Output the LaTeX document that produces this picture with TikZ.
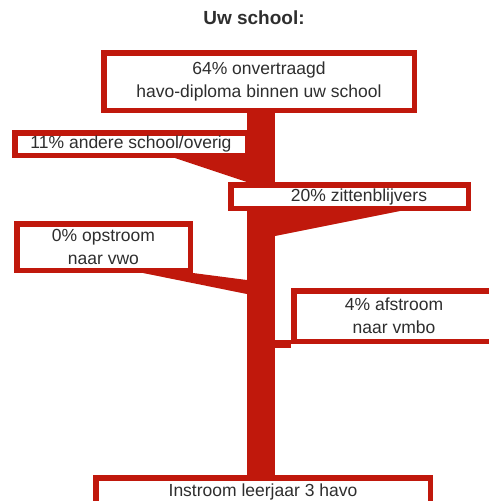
\documentclass[tikz,border=0pt]{standalone}
\usepackage{fontspec}
\setmainfont{Liberation Sans}
\usetikzlibrary{positioning,calc,backgrounds}
\definecolor{rood}{HTML}{C0180C}
\definecolor{inkt}{HTML}{2E2E2E}

\begin{document}
\begin{tikzpicture}[x=1pt, y=-1pt,
  vak/.style={rectangle, draw=rood, line width=5.5pt, fill=white, inner sep=0pt, align=center,
    font=\fontsize{17.5}{23}\selectfont\color{inkt}},
  stroom/.style={fill=rood},
  kop/.style={font=\fontsize{19}{22}\selectfont\bfseries\color{inkt}}
]
  \useasboundingbox (0,0) rectangle (489,501);
  \clip (0,0) rectangle (489,501);

  \node[kop] (titel) at (254,18) {Uw school:};

  \node[vak, minimum width=310.5, minimum height=57.5] (diploma) at (259,81.5) {64\% onvertraagd\\havo-diploma binnen uw school};
  \node[vak, minimum width=232.5, minimum height=22.5] (overig) at (131,144) {11\% andere school/overig};
  \node[vak, minimum width=237.5, minimum height=23.5] (zitten) at (349.5,196.5) {\hspace*{19pt}20\% zittenblijvers};
  \node[vak, minimum width=173.5, minimum height=46.5] (opstroom) at (103.5,247) {0\% opstroom\\naar vwo};
  \node[vak, minimum width=200.5, minimum height=50.5] (afstroom) at (394,316) {4\% afstroom\\naar vmbo};
  \node[vak, minimum width=334.5, minimum height=34.5] (instroom) at (263,495) {\raisebox{3pt}[\height][\depth]{Instroom leerjaar 3 havo}};

  % stam en zijstromen
  \begin{scope}[on background layer]
    \node[fill=rood, inner sep=0pt, minimum width=28, minimum height=364] (stam) at (261,294) {};
    \fill[stroom] (overig.south east -| 175,0) -- (overig.south east) -- (stam.west |- 0,182) -- cycle;
    \fill[stroom] (zitten.south -| stam.east) -- (zitten.south -| 400,0) -- (stam.east |- 0,236) -- cycle;
    \fill[stroom] (opstroom.south -| 143,0) -- (opstroom.south east) -- (stam.west |- 0,280) -- (stam.west |- 0,294) -- cycle;
    \fill[stroom] (stam.east |- 0,340) rectangle ($(afstroom.south west)+(0,3.5)$);
  \end{scope}
\end{tikzpicture}
\end{document}
